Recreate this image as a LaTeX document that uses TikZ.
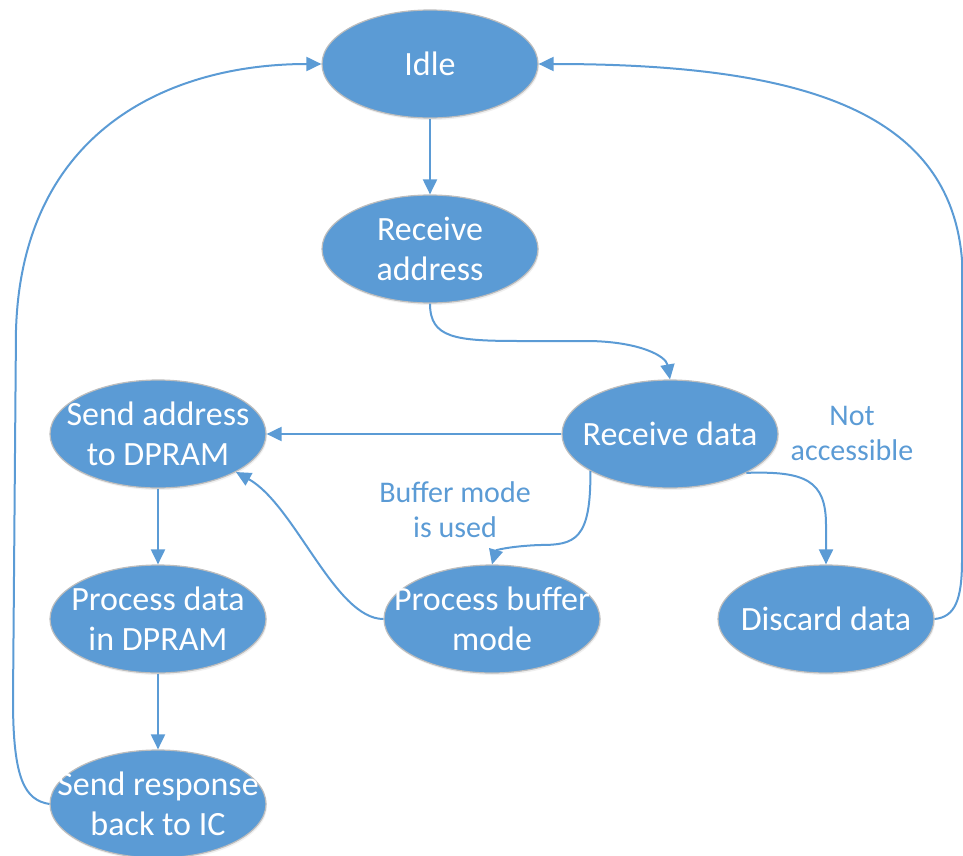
\documentclass[tikz,border=0pt]{standalone}
\usepackage{fontspec}
\setmainfont{Carlito}
\usetikzlibrary{arrows.meta,shapes.geometric,shadows}
\definecolor{stateblue}{HTML}{5B9BD5}
\definecolor{rimgrey}{HTML}{BDBDBD}
\begin{document}
\begin{tikzpicture}[x=1pt,y=-1pt]
  \tikzstyle{state}=[ellipse,fill=stateblue,draw=rimgrey,line width=1.2pt,
    minimum width=216pt,minimum height=108pt,inner sep=0pt,
    drop shadow={opacity=0.12,shadow xshift=1pt,shadow yshift=-2pt}]
  \tikzstyle{statetext}=[text=white,align=center,inner sep=0pt,
    font=\fontsize{34}{40}\selectfont]
  \tikzstyle{cond}=[text=stateblue,align=center,inner sep=0pt,
    font=\fontsize{30}{35}\selectfont]
  \tikzstyle{trans}=[draw=stateblue,line width=2pt,
    -{Triangle[length=15pt,width=14pt]}]
  \useasboundingbox (0,0) rectangle (963,856);
  % states
  \node[state] (idle) at (430,64) {};
  \node[state] (recaddr) at (430,249) {};
  \node[state] (recdata) at (670,434) {};
  \node[state] (sendaddr) at (158,434) {};
  \node[state] (procdata) at (158,619) {};
  \node[state] (sendresp) at (158,804) {};
  \node[state] (procbuf) at (492,619) {};
  \node[state] (discard) at (826,619) {};
  \node[statetext] (idle-t) at (idle) {Idle};
  \node[statetext] (recaddr-t) at (recaddr) {Receive\\address};
  \node[statetext] (recdata-t) at (recdata) {Receive data};
  \node[statetext] (sendaddr-t) at (sendaddr) {Send address\\to DPRAM};
  \node[statetext] (procdata-t) at (procdata) {Process data\\in DPRAM};
  \node[statetext] (sendresp-t) at (sendresp) {Send response\\back to IC};
  \node[statetext] (procbuf-t) at (procbuf) {Process buffer\\mode};
  \node[statetext] (discard-t) at (discard) {Discard data};
  % conditions
  \node[cond] (notacc) at (852,433) {Not\\accessible};
  \node[cond] (bufused) at (455,510) {Buffer mode\\is used};
  % transitions
  \draw[trans] (idle) -- (recaddr);
  \draw[trans] (recaddr.south) .. controls (430,338) and (455,341) .. (520,341)
               -- (590,341) .. controls (640,342) and (666,356) .. (recdata.north);
  \draw[trans] (recdata) -- (sendaddr);
  \draw[trans] (recdata.205) .. controls (591,540) and (575,545) .. (540,545)
               .. controls (512,546) and (496,550) .. (procbuf.north);
  \draw[trans] (recdata.-27) .. controls (805,471) and (826,480) .. (826,525)
               -- (discard.north);
  \draw[trans] (discard.east) .. controls (955,617) and (962,600) .. (962,560)
               -- (962,260) .. controls (950,110) and (800,64) .. (idle.east);
  \draw[trans] (procbuf.west) .. controls (335,619) and (295,505) .. (sendaddr.-26);
  \draw[trans] (sendaddr) -- (procdata);
  \draw[trans] (procdata) -- (sendresp);
  \draw[trans] (sendresp.west) .. controls (25,800) and (13,780) .. (13,700)
               -- (16,330) .. controls (22,130) and (170,64) .. (idle.west);
\end{tikzpicture}
\end{document}
